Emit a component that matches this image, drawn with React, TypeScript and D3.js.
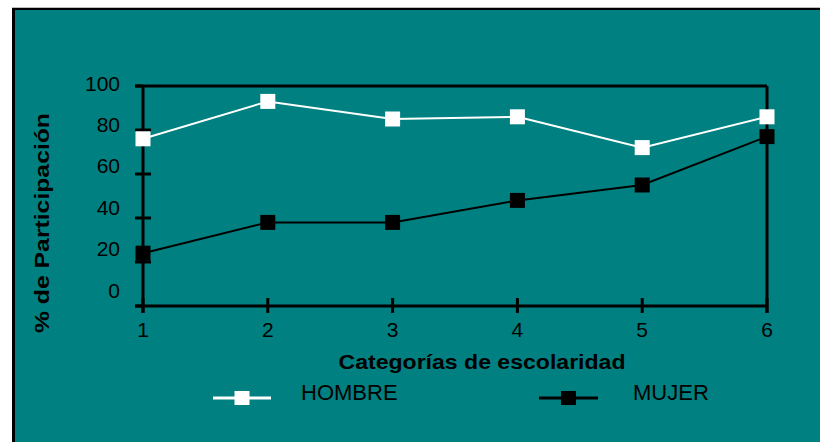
import React from "react";
import * as d3 from "d3";

const categories = [1, 2, 3, 4, 5, 6];
const hombre = [76, 93, 85, 86, 72, 86];
const mujer = [24, 38, 38, 48, 55, 77];
const yTicks = [0, 20, 40, 60, 80, 100];
const seriesNames = ["HOMBRE", "MUJER"];
const xTitle = "Categorías de escolaridad";
const yTitle = "% de Participación";

export default function App() {
  const W = 820, H = 442;
  const x = d3.scaleLinear().domain([1, 6]).range([143, 767]);
  const y = d3.scaleLinear().domain([0, 100]).range([306, 86]);
  const yLab = d3.scaleLinear().domain([0, 100]).range([290, 83]);
  const line = d3.line<number>().x((_, i) => x(categories[i])).y((d) => y(d));
  const font = "'Liberation Sans', Arial, sans-serif";
  const teal = "#008080";
  const ms = 15;
  const series = [
    { name: seriesNames[0], data: hombre, color: "#ffffff", lx: [213, 271], tx: 301 },
    { name: seriesNames[1], data: mujer, color: "#000000", lx: [539, 598], tx: 633 },
  ];
  return (
    <svg width={W} height={H} style={{ position: "absolute", left: 0, top: 0, display: "block" }} fontFamily={font}>
      <rect x={0} y={0} width={W} height={H} fill="#ffffff" />
      <line x1={12} x2={W} y1={7.5} y2={7.5} stroke="#bdbdbd" strokeWidth={1} />
      <rect x={12} y={8} width={W - 12} height={H - 8} fill={teal} />
      <line x1={12} x2={W} y1={9} y2={9} stroke="#000" strokeWidth={2} />
      <line x1={13.5} x2={13.5} y1={8} y2={H} stroke="#000" strokeWidth={3} />

      {/* frame */}
      <g stroke="#000" strokeWidth={3} fill="none">
        <line x1={135} x2={x(6)} y1={y(100)} y2={y(100)} />
        <line x1={135} x2={x(6)} y1={y(0)} y2={y(0)} />
        <line x1={x(1)} x2={x(1)} y1={y(100)} y2={313} />
        <line x1={x(6)} x2={x(6)} y1={y(100)} y2={313} />
        {yTicks.map((t) => (
          <line key={"yt" + t} x1={135} x2={t === 0 || t === 100 ? x(1) : 151} y1={y(t)} y2={y(t)} />
        ))}
        {categories.map((c) => (
          <line key={"xt" + c} x1={x(c)} x2={x(c)} y1={298} y2={313} />
        ))}
      </g>

      {/* y labels */}
      {yTicks.map((t) => (
        <text key={"yl" + t} x={120} y={yLab(t)} dy="0.36em" textAnchor="end" fontSize={21} fill="#000">
          {t}
        </text>
      ))}
      {/* x labels */}
      {categories.map((c) => (
        <text key={"xl" + c} x={x(c)} y={329} dy="0.36em" textAnchor="middle" fontSize={21} fill="#000">
          {c}
        </text>
      ))}

      <text x={482} y={361} dy="0.36em" textAnchor="middle" fontSize={21} fontWeight="bold" fill="#000" textLength={287} lengthAdjust="spacingAndGlyphs">
        {xTitle}
      </text>
      <text transform="translate(41,223) rotate(-90)" textAnchor="middle" dy="0.36em" fontSize={21} fontWeight="bold" fill="#000" textLength={220} lengthAdjust="spacingAndGlyphs">
        {yTitle}
      </text>

      {/* series */}
      {series.map((s) => (
        <g key={s.name}>
          <path d={line(s.data) || ""} fill="none" stroke={s.color} strokeWidth={2} />
          {s.data.map((v, i) => (
            <rect key={i} x={x(categories[i]) - ms / 2} y={y(v) - ms / 2} width={ms} height={ms} fill={s.color} />
          ))}
        </g>
      ))}

      {/* legend */}
      {series.map((s) => (
        <g key={"lg" + s.name}>
          <line x1={s.lx[0]} x2={s.lx[1]} y1={398} y2={398} stroke={s.color} strokeWidth={3} />
          <rect x={(s.lx[0] + s.lx[1]) / 2 - 7.5} y={391} width={15} height={14} fill={s.color} />
          <text x={s.tx} y={392} dy="0.36em" fontSize={22} fill="#000">
            {s.name}
          </text>
        </g>
      ))}
    </svg>
  );
}
